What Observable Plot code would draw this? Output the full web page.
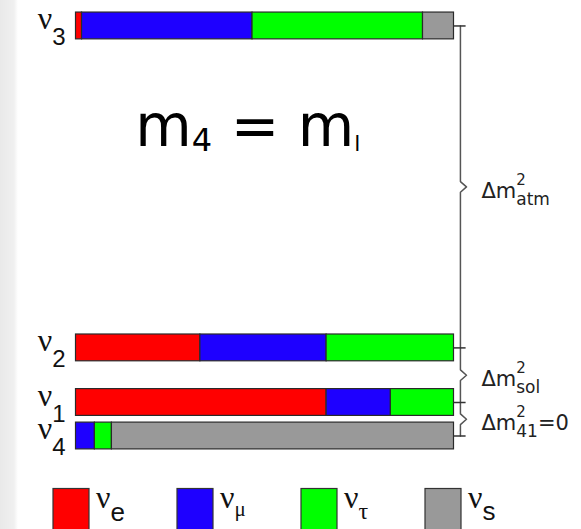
<!DOCTYPE html>
<html><head><meta charset="utf-8">
<script src="https://cdn.jsdelivr.net/npm/d3@7"></script>
<script src="https://cdn.jsdelivr.net/npm/@observablehq/plot@0.6"></script>
<style>
html,body{margin:0;padding:0;overflow:hidden;}
body{width:581px;height:529px;background:linear-gradient(to right,#e9e9e9 0px,#f0f0f0 14px,#f8f8f8 16px,#ffffff 18px);}
#chart svg,#legend svg{display:block;}
</style></head><body>
<div id="chart"></div>
<div id="legend"></div>
<script>
// ---- data ----
const states = ["ν3", "ν2", "ν1", "ν4"];
const stateLabels = ["ν_{3}", "ν_{2}", "ν_{1}", "ν_{4}"];
const stateLevel = [12.24, 2.63, 1, 0];           // relative mass level (schematic)
const flavors = ["e", "μ", "τ", "s"];
const flavorColors = ["#ff0000", "#1e00ff", "#00ff00", "#999999"];
const fracE   = [0.016, 0.329, 0.663, 0.000];
const fracMu  = [0.451, 0.334, 0.170, 0.050];
const fracTau = [0.451, 0.337, 0.167, 0.045];
const fracS   = [0.082, 0.000, 0.000, 0.905];
const splitLabels = ["Δm^{2}_{atm}", "Δm^{2}_{sol}", "Δm^{2}_{41}=0"];
const splitPairs = [[0, 1], [1, 2], [2, 3]];
const titleText = "m_{4} = m_{l|22}";
const titlePos = {x: 0.157, y: 8.67};

// ---- derived table ----
const fracs = [fracE, fracMu, fracTau, fracS];
const segments = [];
states.forEach((s, i) => {
  let acc = 0;
  flavors.forEach((f, j) => {
    const v = fracs[j][i];
    if (v > 0) segments.push({state: s, flavor: f, x1: acc, x2: acc + v, level: stateLevel[i]});
    acc += v;
  });
});
const half = 0.4;
const bx = 1.017;
const mids = splitPairs.map(([a, b]) => (stateLevel[a] + stateLevel[b]) / 2);
const bracket = [{x: bx, y: stateLevel[0]}];
mids.forEach(m => {
  bracket.push({x: bx, y: m + 0.16}, {x: bx + 0.016, y: m}, {x: bx, y: m - 0.16});
});
bracket.push({x: bx, y: stateLevel[stateLevel.length - 1]});

const plot = Plot.plot({
  width: 581, height: 480,
  marginTop: 0, marginBottom: 0, marginLeft: 0, marginRight: 0,
  style: {background: "transparent", overflow: "visible"},
  x: {domain: [0, 1], range: [75.5, 453.5], axis: null},
  y: {domain: [0, 13], range: [435.5, 0], axis: null},
  color: {domain: flavors, range: flavorColors},
  marks: [
    Plot.rectX(segments, {
      x1: "x1", x2: "x2",
      y1: d => d.level - half, y2: d => d.level + half,
      fill: "flavor", stroke: "#2a2a2a", strokeWidth: 1.2
    }),
    Plot.line(bracket, {x: "x", y: "y", stroke: "#555", strokeWidth: 1.5, curve: "linear"}),
    Plot.ruleY(stateLevel, {x1: 1, x2: 1.032, stroke: "#333", strokeWidth: 1.5}),
    Plot.text(stateLabels, {
      x: 0, y: (d, i) => stateLevel[i], text: d => d,
      dx: -10.5, dy: 3, textAnchor: "end", fontSize: 32,
      fontFamily: "Liberation Serif", fill: "#111", className: "lbl-state"
    }),
    Plot.text(splitLabels, {
      x: bx, y: (d, i) => mids[i], text: d => d,
      dx: 21, dy: 11, textAnchor: "start", fontSize: 21,
      fontFamily: "DejaVu Sans", fill: "#222", className: "lbl-split"
    }),
    Plot.text([titleText], {
      x: titlePos.x, y: titlePos.y, text: d => d,
      textAnchor: "start", fontSize: 58,
      fontFamily: "DejaVu Sans", fill: "#000", className: "lbl-title"
    })
  ]
});
document.getElementById("chart").appendChild(plot);

// rich text: _{sub}, ^{sup}, ^{sup}_{sub}; optional "|size" inside braces
const NS = "http://www.w3.org/2000/svg";
function richify(root, cls, cfg) {
  root.querySelectorAll(`.${cls} text`).forEach(el => {
    for (const a of ["y", "dy"]) {
      const v = el.getAttribute(a);
      if (v && /em$/.test(v)) el.removeAttribute(a);
    }
    const src = el.textContent;
    el.textContent = "";
    const re = /\^\{([^}]*)\}_\{([^}]*)\}|_\{([^}]*)\}|\^\{([^}]*)\}|([^_^]+)/g;
    let m, off = 0;
    const add = (raw, size, family, shift, dx) => {
      let txt = raw;
      const p = raw.indexOf("|");
      if (p >= 0) { txt = raw.slice(0, p); size = +raw.slice(p + 1); }
      const ts = document.createElementNS(NS, "tspan");
      ts.textContent = txt;
      ts.setAttribute("font-size", size);
      ts.setAttribute("font-family", family);
      const d = shift - off;
      if (d) ts.setAttribute("dy", d);
      off = shift;
      if (dx) ts.setAttribute("dx", dx);
      el.appendChild(ts);
      return ts;
    };
    while ((m = re.exec(src))) {
      if (m[5] != null) add(m[5], cfg.size, cfg.family, 0);
      else if (m[3] != null) add(m[3], cfg.subSize, cfg.subFamily, cfg.subDy);
      else if (m[4] != null) add(m[4], cfg.supSize, cfg.supFamily, -cfg.supRise);
      else {
        const s = add(m[1], cfg.supSize, cfg.supFamily, -cfg.supRise);
        const w = s.getComputedTextLength();
        add(m[2], cfg.subSize, cfg.subFamily, cfg.subDy, -w);
      }
    }
  });
}
richify(plot, "lbl-state", {size: 32, family: "Liberation Serif", subSize: 24, subFamily: "Liberation Sans", subDy: 16});
richify(plot, "lbl-split", {size: 21, family: "DejaVu Sans", supSize: 15, supFamily: "DejaVu Sans", supRise: 13, subSize: 17, subFamily: "DejaVu Sans", subDy: 7});
richify(plot, "lbl-title", {size: 58, family: "DejaVu Sans", subSize: 32, subFamily: "DejaVu Sans", subDy: 5});

// ---- legend (below the plot) ----
const subStyle = {
  e: {family: "Liberation Sans", size: 26, dy: 13},
  "μ": {family: "Liberation Serif", size: 21, dy: 8},
  "τ": {family: "Liberation Serif", size: 24, dy: 11},
  s: {family: "Liberation Sans", size: 26, dy: 12}
};
const lsvg = d3.select("#legend").append("svg").attr("width", 581).attr("height", 49);
flavors.forEach((f, i) => {
  const x0 = 53 + i * 124;
  lsvg.append("rect").attr("x", x0).attr("y", 8.5).attr("width", 36).attr("height", 44)
    .attr("fill", flavorColors[i]).attr("stroke", "#333").attr("stroke-width", 1.2);
  const t = lsvg.append("text").attr("x", x0 + 43).attr("y", 28).attr("fill", "#111");
  t.append("tspan").attr("font-family", "Liberation Serif").attr("font-size", 32).text("ν");
  const st = subStyle[f];
  t.append("tspan").attr("font-family", st.family).attr("font-size", st.size).attr("dy", st.dy).text(f);
});
</script>
</body></html>
